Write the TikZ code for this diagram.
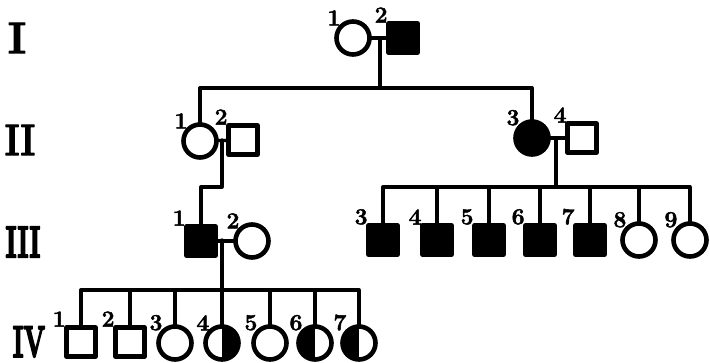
\documentclass[tikz,border=0pt]{standalone}
\usepackage{fontspec}

\newfontfamily\heavyfont[FakeBold=2.5]{Latin Modern Roman}
\newfontfamily\heavierfont[FakeBold=5]{Latin Modern Roman}
\newfontfamily\numfont[FakeBold=2]{Latin Modern Roman}
\newcommand{\genlabel}[2][0.65]{\scalebox{#1}[1]{\fontsize{44}{44}\heavyfont\bfseries #2}}
\newcommand{\gennarrow}[2][0.6]{\scalebox{#1}[1]{\fontsize{44}{44}\heavierfont\bfseries #2}}

\begin{document}
\begin{tikzpicture}[x=1pt, y=-1pt, line cap=round, line join=round]

% --- Global TikZ Styles ---
\tikzset{
    line/.style={
        draw=black,
        line width=3.3pt
    },
    symbol/.style={
        draw=black,
        line width=4.6pt,
        inner sep=0pt,
        outer sep=0pt
    },
    female/.style={
        symbol,
        circle,
        minimum size=33pt
    },
    male/.style={
        symbol,
        rectangle,
        minimum size=29pt
    },
    affected/.style={
        fill=black
    },
    lefthalf/.style={
        path picture={\fill[black] (path picture bounding box.south west)
            rectangle (path picture bounding box.north);}
    },
    righthalf/.style={
        path picture={\fill[black] (path picture bounding box.south)
            rectangle (path picture bounding box.north east);}
    },
    numlabel/.style={
        font=\fontsize{23}{23}\numfont\bfseries,
        inner sep=0pt,
        label distance=1pt
    },
    genname/.style={
        inner sep=0pt
    }
}

\useasboundingbox (0,0) rectangle (710,363);

% --- Hoogte van de generaties en broer/zus-lijnen ---
\pgfmathsetmacro{\genI}{38}
\pgfmathsetmacro{\genII}{140}
\pgfmathsetmacro{\genIII}{240}
\pgfmathsetmacro{\genIV}{343}

\pgfmathsetmacro{\sibI}{88}
\pgfmathsetmacro{\sibII}{187}
\pgfmathsetmacro{\sibIII}{290}

% --- Generatienamen ---
\node[genname] (nameI)   at (17,\genI)   {\genlabel[1.0]{I}};
\node[genname] (nameII)  at (20,\genII)  {\genlabel[0.8]{II}};
\node[genname] (nameIII) at (23,{\genIII+2}) {\gennarrow[0.6]{III}};
\node[genname] (nameIV)  at (29,{\genIV-1})  {\gennarrow[0.58]{IV}};

% --- Generatie I ---
\node[female, label={[numlabel]135:1}] (I1) at (353,\genI) {};
\node[male, affected, label={[numlabel]135:2}] (I2) at (403,\genI) {};

% --- Generatie II ---
\node[female, label={[numlabel]135:1}] (II1) at (200,{\genII+1}) {};
\node[male, label={[numlabel]135:2}] (II2) at (243,\genII) {};
\node[female, affected, label={[numlabel]135:3}] (II3) at (532,{\genII-2}) {};
\node[male, label={[numlabel]135:4}] (II4) at (582,{\genII-2}) {};

% --- Generatie III ---
\node[male, affected, label={[numlabel]135:1}] (III1) at (201,{\genIII+1}) {};
\node[female, label={[numlabel]135:2}] (III2) at (252,{\genIII+1}) {};
\node[male, affected, label={[numlabel]135:3}] (III3) at (383,\genIII) {};
\node[male, affected, label={[numlabel]135:4}] (III4) at (437,\genIII) {};
\node[male, affected, label={[numlabel]135:5}] (III5) at (489,\genIII) {};
\node[male, affected, label={[numlabel]135:6}] (III6) at (540,\genIII) {};
\node[male, affected, label={[numlabel]135:7}] (III7) at (590,\genIII) {};
\node[female, label={[numlabel]135:8}] (III8) at (639,\genIII) {};
\node[female, label={[numlabel]135:9}] (III9) at (690,\genIII) {};

% --- Generatie IV ---
\node[male, label={[numlabel]135:1}] (IV1) at (81,{\genIV-1}) {};
\node[male, label={[numlabel]135:2}] (IV2) at (130,{\genIV-1}) {};
\node[female, label={[numlabel]135:3}] (IV3) at (175,\genIV) {};
\node[female, righthalf, label={[numlabel]135:4}] (IV4) at (222,\genIV) {};
\node[female, label={[numlabel]135:5}] (IV5) at (270,\genIV) {};
\node[female, lefthalf, label={[numlabel]135:6}] (IV6) at (315,\genIV) {};
\node[female, lefthalf, label={[numlabel]135:7}] (IV7) at (359,\genIV) {};

% --- Huwelijkslijnen en afstammingspunten ---
\coordinate (mI)    at (380,\genI);
\coordinate (mIIa)  at (222,\genII);
\coordinate (mIIb)  at (556,{\genII-1});
\coordinate (mIII)  at (222,\genIII);

\coordinate (sibI)   at (380,\sibI);
\coordinate (jogII)  at (222,\sibII);
\coordinate (sibII)  at (556,\sibII);
\coordinate (sibIII) at (222,\sibIII);

\draw[line] (I1) -- (I2);
\draw[line] (II1) -- (II2);
\draw[line] (II3) -- (II4);
\draw[line] (III1) -- (III2);

% --- I naar II ---
\draw[line] (mI) -- (sibI);
\draw[line] (II1.north) -- (II1.north |- sibI) -- (II3.north |- sibI) -- (II3.north);

% --- II-1 x II-2 naar III-1 (met knik) ---
\draw[line] (mIIa) -- (jogII) -- (jogII -| III1.north) -- (III1.north);

% --- II-3 x II-4 naar III-3 ... III-9 ---
\draw[line] (mIIb) -- (sibII);
\draw[line] (III3.north) -- (III3.north |- sibII) -- (III9.north |- sibII) -- (III9.north);
\draw[line] (III4.north) -- (III4.north |- sibII);
\draw[line] (III5.north) -- (III5.north |- sibII);
\draw[line] (III6.north) -- (III6.north |- sibII);
\draw[line] (III7.north) -- (III7.north |- sibII);
\draw[line] (III8.north) -- (III8.north |- sibII);

% --- III-1 x III-2 naar IV-1 ... IV-7 ---
\draw[line] (mIII) -- (sibIII);
\draw[line] (IV1.north) -- (IV1.north |- sibIII) -- (IV7.north |- sibIII) -- (IV7.north);
\draw[line] (IV2.north) -- (IV2.north |- sibIII);
\draw[line] (IV3.north) -- (IV3.north |- sibIII);
\draw[line] (IV4.north) -- (IV4.north |- sibIII);
\draw[line] (IV5.north) -- (IV5.north |- sibIII);
\draw[line] (IV6.north) -- (IV6.north |- sibIII);

\end{tikzpicture}
\end{document}
